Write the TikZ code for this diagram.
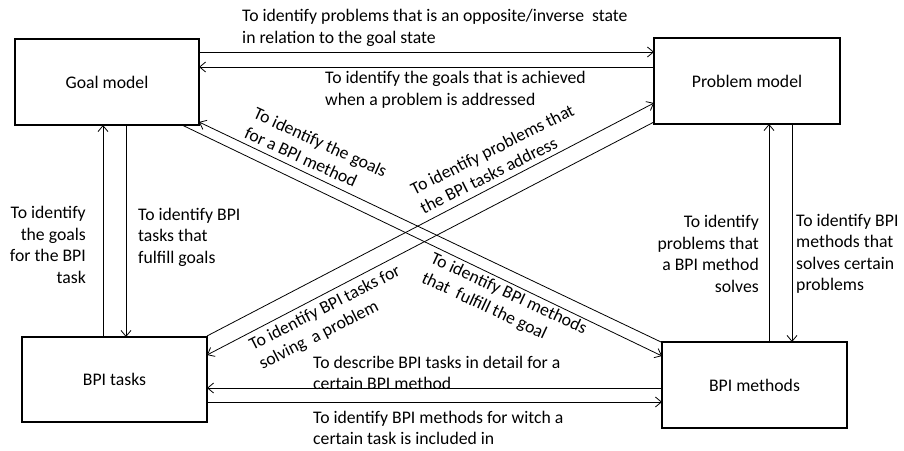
\documentclass[tikz,border=0pt]{standalone}
\usepackage{fontspec}
\setmainfont{Carlito}
\usetikzlibrary{arrows.meta}
\newcommand\lblfont{\fontsize{17.7}{21.5}\selectfont}
\begin{document}
\begin{tikzpicture}[x=1pt,y=-1pt,
  box/.style={draw,line width=2.2pt,minimum height=86pt,inner sep=2pt,font=\lblfont},
  arr/.style={-{Straight Barb[length=6pt,width=10pt]},line width=0.8pt},
  lbl/.style={inner sep=0pt,font=\lblfont}]
\useasboundingbox (0,0) rectangle (904,450);
% boxes
\node[box,minimum width=184pt] (goal) at (107,82) {Goal model};
\node[box,minimum width=186pt] (problem) at (747,81) {Problem model};
\node[box,minimum width=185pt,minimum height=85pt] (tasks) at (114.5,379.5) {BPI tasks};
\node[box,minimum width=185pt] (methods) at (754.5,385) {BPI methods};
% border points
\coordinate (g1) at (199,52);   \coordinate (p1) at (654,52);
\coordinate (g2) at (199,67);   \coordinate (p2) at (654,67);
\coordinate (g3) at (103,125);  \coordinate (t3) at (103,337);
\coordinate (g4) at (126,125);  \coordinate (t4) at (126,337);
\coordinate (p5) at (769,124);  \coordinate (m5) at (769,342);
\coordinate (p6) at (792,124);  \coordinate (m6) at (792,342);
\coordinate (t7) at (207,402);  \coordinate (m7) at (662,402);
\coordinate (t8) at (207,388);  \coordinate (m8) at (662,388);
\coordinate (m9) at (661,342);  \coordinate (g9) at (199,122);
\coordinate (g10) at (182,125); \coordinate (m10) at (662,356);
\coordinate (t11) at (207,336); \coordinate (p11) at (654,103);
\coordinate (p12) at (654,122); \coordinate (t12) at (207,355);
% connectors
\draw[arr] (g1) -- (p1);
\draw[arr] (p2) -- (g2);
\draw[arr] (t3) -- (g3);
\draw[arr] (g4) -- (t4);
\draw[arr] (m5) -- (p5);
\draw[arr] (p6) -- (m6);
\draw[arr] (t7) -- (m7);
\draw[arr] (m8) -- (t8);
\draw[arr] (m9) -- (g9);
\draw[arr] (g10) -- (m10);
\draw[arr] (t11) -- (p11);
\draw[arr] (p12) -- (t12);
% labels
\node[lbl,align=left,anchor=west] (l1) at (242,28) {To identify problems that is an opposite/inverse\ \ state\\in relation to the goal state};
\node[lbl,align=left,anchor=west] (l2) at (325,90) {To identify the goals that is achieved\\when a problem is addressed};
\node[lbl,align=right,anchor=east] (l3) at (86,245) {To identify\\the goals\\for the BPI\\task};
\node[lbl,align=left,anchor=west] (l4) at (138,237) {To identify BPI\\tasks that\\fulfill goals};
\node[lbl,align=right,anchor=east] (l5) at (759,254) {To identify\\problems that\\a BPI method\\solves};
\node[lbl,align=left,anchor=west] (l6) at (796,254) {To identify BPI\\methods that\\solves certain\\problems};
\node[lbl,align=left,anchor=west] (l7) at (313,373) {To describe BPI tasks in detail for a\\certain BPI method};
\node[lbl,align=left,anchor=west] (l8) at (313,428) {To identify BPI methods for witch a\\certain task is included in};
\node[lbl,align=left,rotate=-24.5] (l9) at (316,152) {To identify the goals\\for a BPI method};
\node[lbl,align=left,rotate=26.5] (l10) at (497,159) {To identify problems that\\the BPI tasks address};
\node[lbl,align=left,rotate=27] (l11) at (330,318) {To identify BPI tasks for\\solving\ \ a problem};
\node[lbl,align=left,rotate=-25] (l12) at (504,304) {To identify BPI methods\\that\ \ fulfill the goal};
\end{tikzpicture}
\end{document}
